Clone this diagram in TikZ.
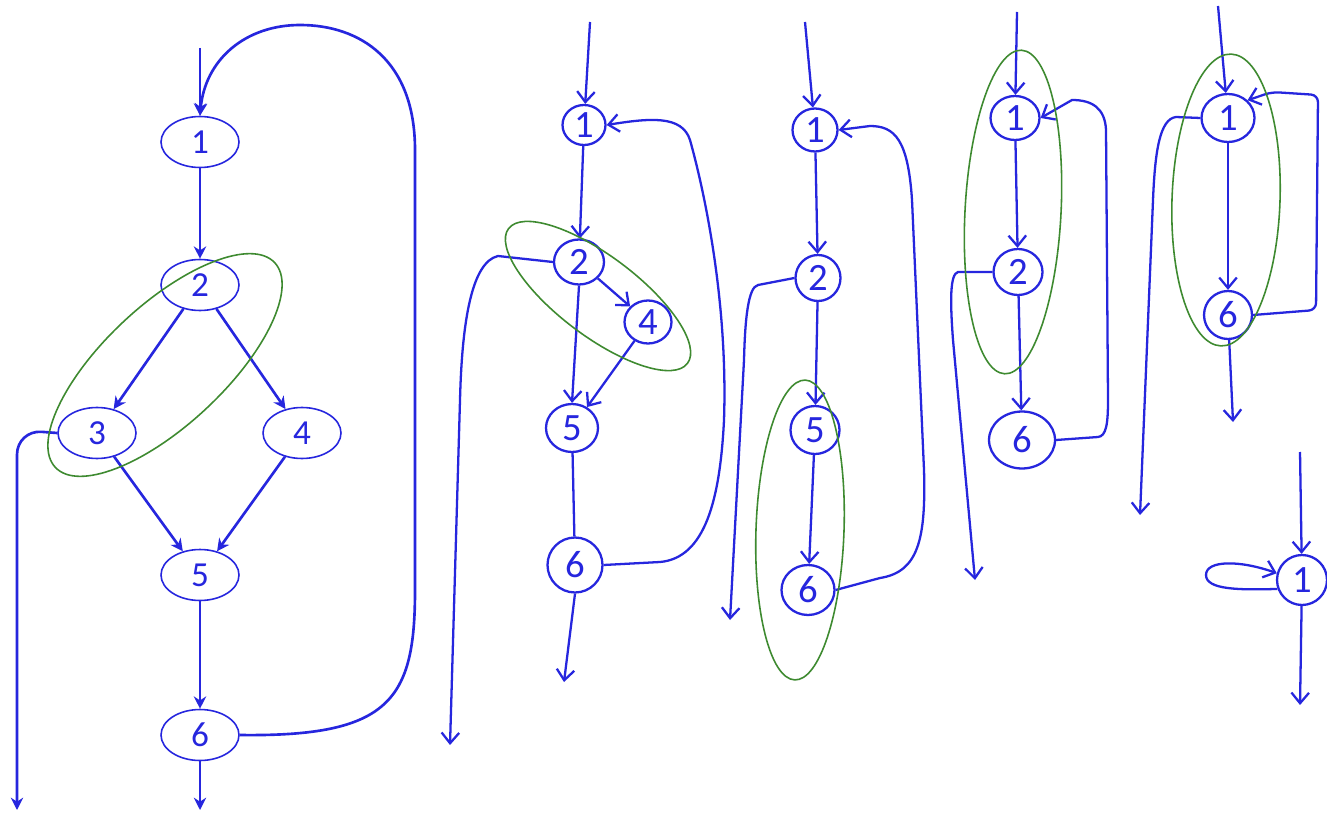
\documentclass[tikz,border=0pt]{standalone}
\usepackage{fontspec}
\setmainfont{Carlito}
\usepackage{tikz}
\usetikzlibrary{shapes.geometric, arrows.meta, positioning, calc}
\definecolor{flowblue}{RGB}{38,38,222}
\definecolor{loopgreen}{RGB}{62,138,48}

\tikzset{
  typednode/.style={ellipse, draw=flowblue, line width=0.9pt, minimum width=1.56cm, minimum height=1.02cm, inner sep=0pt, text=flowblue, font=\fontsize{20}{22}\selectfont},
  handnode/.style={ellipse, draw=flowblue, line width=1.3pt, inner sep=0pt, text=flowblue, font=\fontsize{22}{24}\selectfont},
  typedarrow/.style={draw=flowblue, line width=1.5pt, -{Stealth[length=7pt, width=7pt]}},
  handarrow/.style={draw=flowblue, line width=1.3pt, -{Straight Barb[length=6pt, width=10pt]}},
  handline/.style={draw=flowblue, line width=1.3pt},
  loopmark/.style={draw=loopgreen, line width=0.9pt},
}

\begin{document}
\begin{tikzpicture}[x=0.02cm, y=-0.02cm]
  \useasboundingbox[fill=white] (0,0) rectangle (1327,817);

  % Typed flow graph on the left
  \foreach \n/\x/\y in {1/200/142, 2/200/285, 3/97/433, 4/302/433, 5/200/575, 6/200/735} {
    \node[typednode] (a\n) at (\x,\y) {\n};
  }
  \coordinate (ain) at (200,48);
  \coordinate (aout) at (200,810);
  \coordinate (aexit) at (17,810);
  \draw[typedarrow] (ain) -- (a1);
  \foreach \s/\t in {1/2, 2/3, 2/4, 3/5, 4/5, 5/6} {
    \draw[typedarrow] (a\s) -- (a\t);
  }
  \draw[typedarrow] (a6) -- (aout);
  \draw[typedarrow, rounded corners=14] (a3.west) -- (17,430) -- (aexit);
  % back edge 6 -> 1
  \draw[typedarrow] (a6.east) .. controls (390,737) and (415,700) .. (415,590)
    -- (415,150) .. controls (415,60) and (360,25) .. (300,25)
    .. controls (245,25) and (205,60) .. (a1.north);
  % region 2-3
  \draw[loopmark, rotate around={43:(165,365)}] (165,365) ellipse [x radius=150, y radius=60];

  % Hand graph, second
  \foreach \n/\lbl/\x/\y/\w/\h in {b1/1/584/125/0.86/0.80, b2/2/579/262/1.0/0.9, b4/4/648/322/0.94/0.86,
                                   b5/5/572/428/1.04/0.96, b6/6/575/565/1.1/1.1} {
    \node[handnode, minimum width=\w cm, minimum height=\h cm] (\n) at (\x,\y) {\lbl};
  }
  \coordinate (bin) at (590,22);
  \coordinate (bout) at (564,682);
  \coordinate (bexit) at (450,745);
  \draw[handarrow] (bin) -- (b1);
  \draw[handarrow] (b1) -- (b2);
  \draw[handarrow] (b2) -- (b4);
  \draw[handarrow] (b2.south) -- (b5.north);
  \draw[handarrow] (b4) -- (b5);
  \draw[handline] (b5) -- (b6);
  \draw[handarrow] (b6.south) -- (bout);
  \draw[handarrow] (b6.east) -- (660,562) .. controls (705,558) and (720,500) .. (724,420)
    .. controls (728,300) and (704,190) .. (690,140) .. controls (682,115) and (650,118) .. (b1.east);
  \draw[handarrow] (b2.west) -- (498,256) .. controls (472,262) and (462,320) .. (460,400) -- (bexit);
  \draw[loopmark, rotate around={-37:(598,296)}] (598,296) ellipse [x radius=112, y radius=40];

  % Hand graph, third
  \foreach \n/\lbl/\x/\y/\w/\h in {c1/1/815/130/0.9/0.86, c2/2/818/278/0.9/0.92,
                                   c5/5/815/430/0.98/0.96, c6/6/808/590/1.06/1.0} {
    \node[handnode, minimum width=\w cm, minimum height=\h cm] (\n) at (\x,\y) {\lbl};
  }
  \coordinate (cin) at (805,22);
  \coordinate (cexit) at (730,620);
  \draw[handarrow] (cin) -- (c1);
  \foreach \s/\t in {1/2, 2/5, 5/6} {
    \draw[handarrow] (c\s) -- (c\t);
  }
  \draw[handarrow] (c6.east) -- (880,578) .. controls (918,572) and (926,540) .. (924,470)
    -- (912,200) .. controls (908,140) and (895,126) .. (870,126) -- (c1.east);
  \draw[handarrow] (c2.west) -- (758,285) .. controls (748,287) and (745,320) .. (744,360) -- (cexit);
  \draw[loopmark, rotate around={-2:(800,530)}] (800,530) ellipse [x radius=44, y radius=150];

  % Hand graph, fourth
  \foreach \n/\lbl/\x/\y/\w/\h in {d1/1/1015/118/0.98/0.88, d2/2/1018/272/0.98/0.92, d6/6/1022/440/1.32/1.14} {
    \node[handnode, minimum width=\w cm, minimum height=\h cm] (\n) at (\x,\y) {\lbl};
  }
  \coordinate (din) at (1017,12);
  \coordinate (dexit) at (975,580);
  \draw[handarrow] (din) -- (d1);
  \draw[handarrow] (d1) -- (d2);
  \draw[handarrow] (d2) -- (d6);
  \draw[handarrow] (d6.east) -- (1098,437) .. controls (1106,436) and (1108,425) .. (1108,400)
    -- (1106,130) .. controls (1105,108) and (1092,100) .. (1072,100) -- (d1.east);
  \draw[handarrow] (d2.west) -- (958,272) .. controls (950,274) and (950,300) .. (953,340) -- (dexit);
  \draw[loopmark, rotate around={-3:(1013,212)}] (1013,212) ellipse [x radius=48, y radius=162];

  % Hand graph, fifth
  \foreach \n/\lbl/\x/\y/\w/\h in {e1/1/1228/118/1.06/0.96, e6/6/1228/315/0.96/0.96} {
    \node[handnode, minimum width=\w cm, minimum height=\h cm] (\n) at (\x,\y) {\lbl};
  }
  \coordinate (ein) at (1218,6);
  \coordinate (eout) at (1233,422);
  \coordinate (eexit) at (1140,515);
  \draw[handarrow] (ein) -- (e1);
  \draw[handarrow] (e1) -- (e6);
  \draw[handarrow] (e6) -- (eout);
  \draw[handarrow, rounded corners=4] (e6.east) -- (1316,310) -- (1318,95) -- (1272,92) -- (e1.north east);
  \draw[handarrow] (e1.west) -- (1176,117) .. controls (1160,119) and (1155,150) .. (1153,200) -- (eexit);
  \draw[loopmark, rotate around={-2:(1226,200)}] (1226,200) ellipse [x radius=54, y radius=146];

  % Single node with a self loop
  \node[handnode, minimum width=1.0cm, minimum height=1.0cm] (f1) at (1302,580) {1};
  \coordinate (fin) at (1300,452);
  \coordinate (fout) at (1300,705);
  \draw[handarrow] (fin) -- (f1);
  \draw[handarrow] (f1) -- (fout);
  \draw[handarrow] (f1.200) .. controls (1240,590) and (1206,590) .. (1206,575)
    .. controls (1206,560) and (1240,560) .. (f1.165);
\end{tikzpicture}
\end{document}
